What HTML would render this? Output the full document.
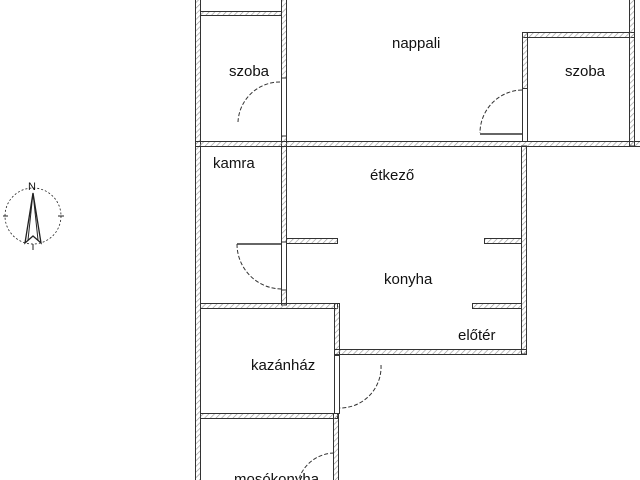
<!DOCTYPE html>
<html><head><meta charset="utf-8"><style>
html,body{margin:0;padding:0;background:#fff;}
svg{display:block}
text{font-family:"Liberation Sans",sans-serif;font-size:15px;fill:#111}
</style></head><body>
<svg width="640" height="480" viewBox="0 0 640 480" xmlns="http://www.w3.org/2000/svg">
<defs>
<pattern id="h" width="4" height="4" patternUnits="userSpaceOnUse" patternTransform="rotate(45)">
<line x1="0" y1="0" x2="0" y2="4" stroke="#999" stroke-width="1.3"/>
</pattern>
</defs>
<rect width="640" height="480" fill="#fff"/>
<g fill="url(#h)" stroke="#333" stroke-width="1">
<rect x="195.5" y="-2" width="5" height="484"/>
<rect x="200.5" y="11.5" width="81" height="4"/>
<rect x="281.5" y="-2" width="5" height="80"/>
<rect x="281.5" y="136" width="5" height="106"/>
<rect x="281.5" y="290" width="5" height="15"/>
<rect x="195.5" y="141.5" width="450" height="5"/>
<rect x="522.5" y="32.5" width="112" height="5"/>
<rect x="522.5" y="32.5" width="5" height="56"/>
<rect x="629.5" y="-2" width="5" height="148"/>
<rect x="521.5" y="146" width="5" height="208"/>
<rect x="286.5" y="238.5" width="51" height="5"/>
<rect x="484.5" y="238.5" width="37" height="5"/>
<rect x="472.5" y="303.5" width="49" height="5"/>
<rect x="200.5" y="303.5" width="137" height="5"/>
<rect x="334.5" y="303.5" width="5" height="52"/>
<rect x="334.5" y="349.5" width="192" height="5"/>
<rect x="200.5" y="413.5" width="137" height="5"/>
<rect x="333.5" y="413.5" width="5" height="70"/>
</g>
<g stroke="#333" stroke-width="1" fill="none">
<line x1="281.5" y1="78" x2="281.5" y2="136"/><line x1="286.5" y1="78" x2="286.5" y2="136"/>
<line x1="522.5" y1="88" x2="522.5" y2="141"/><line x1="527.5" y1="88" x2="527.5" y2="141"/>
<line x1="281.5" y1="242" x2="281.5" y2="290"/><line x1="286.5" y1="242" x2="286.5" y2="290"/>
<line x1="334.5" y1="355" x2="334.5" y2="414"/><line x1="339.5" y1="355" x2="339.5" y2="414"/>
<line x1="480" y1="134" x2="522" y2="134" stroke-width="1.5"/>
<line x1="237" y1="244" x2="282" y2="244" stroke-width="1.5"/>
</g>
<g stroke="#333" stroke-width="1" fill="none" stroke-dasharray="4,2">
<path d="M280 82 A42 42 0 0 0 238 122"/>
<path d="M522 90 A43 43 0 0 0 480 133"/>
<path d="M237 244 A45 45 0 0 0 281 289"/>
<path d="M381 365 A41 41 0 0 1 340 408"/>
<path d="M334 453 A38 38 0 0 0 298 482"/>
</g>
<text x="229" y="76">szoba</text>
<text x="392" y="48">nappali</text>
<text x="565" y="76">szoba</text>
<text x="213" y="168">kamra</text>
<text x="370" y="180">étkező</text>
<text x="384" y="284">konyha</text>
<text x="458" y="340">előtér</text>
<text x="251" y="370">kazánház</text>
<text x="234" y="484">mosókonyha</text>
<g stroke="#222" fill="none">
<circle cx="33" cy="216" r="28" stroke-dasharray="2,2" stroke-width="0.8"/>
<line x1="3" y1="216" x2="8" y2="216"/><line x1="58" y1="216" x2="64" y2="216"/>
<line x1="33" y1="244" x2="33" y2="250"/>
<path d="M33 193 L25 243 L33 236 L41 243 Z" stroke-width="1.3"/>
<path d="M33 193 L28 240 M33 193 L38 240" stroke-width="1"/>
</g>
<text x="28" y="190" style="font-size:11px">N</text>
</svg>
</body></html>
